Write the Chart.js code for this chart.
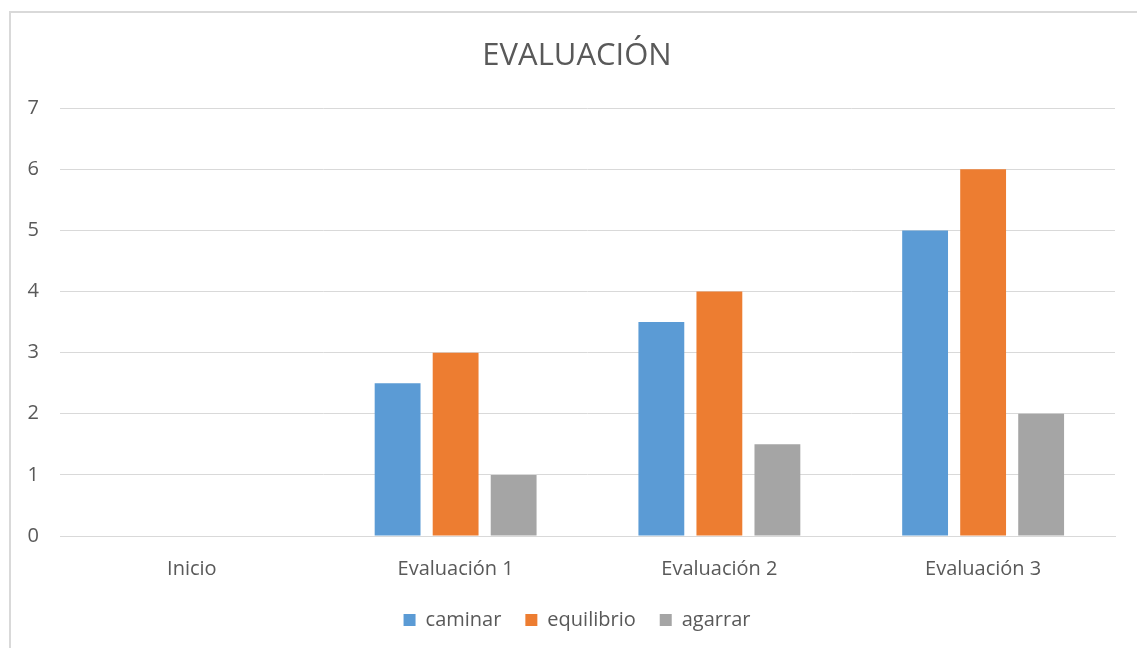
<!DOCTYPE html>
<html>
<head>
<meta charset="utf-8">
<script src="https://cdn.jsdelivr.net/npm/chart.js@4.4.1/dist/chart.umd.min.js"></script>
<style>
  html, body { margin: 0; padding: 0; background: #fff; overflow: hidden; }
  #frame { position: absolute; left: 9px; top: 11px; width: 1200px; height: 700px;
           border-top: 2px solid #d9d9d9; border-left: 2px solid #d9d9d9; }
  #wrap { position: absolute; left: 0; top: 0; width: 1137px; height: 648px; }
</style>
</head>
<body>
<div id="frame"></div>
<div id="wrap"><canvas id="c"></canvas></div>
<script>
const categories = ["Inicio", "Evaluación 1", "Evaluación 2", "Evaluación 3"];
const seriesNames = ["caminar", "equilibrio", "agarrar"];
const caminar = [0, 2.5, 3.5, 5];
const equilibrio = [0, 3, 4, 6];
const agarrar = [0, 1, 1.5, 2];
const yTicks = [0, 1, 2, 3, 4, 5, 6, 7];
const colors = ["#5B9BD5", "#ED7D31", "#A5A5A5"];
const chartTitle = "EVALUACIÓN";

const txt = "#595959";
const fontFam = "'Open Sans', sans-serif";

new Chart(document.getElementById("c"), {
  type: "bar",
  data: {
    labels: categories,
    datasets: [caminar, equilibrio, agarrar].map((d, i) => ({
      label: seriesNames[i],
      data: d,
      backgroundColor: colors[i],
      borderWidth: 0,
      categoryPercentage: 0.66,
      barPercentage: 0.79
    }))
  },
  options: {
    responsive: true,
    maintainAspectRatio: false,
    animation: false,
    layout: { padding: { left: 17, right: 0, top: 0, bottom: 8 } },
    plugins: {
      title: {
        display: true, text: chartTitle, color: txt,
        font: { family: fontFam, size: 31, weight: "normal" },
        padding: { top: 38, bottom: 33 }
      },
      legend: {
        position: "bottom",
        labels: {
          color: txt, boxWidth: 12, boxHeight: 12, padding: 24,
          font: { family: fontFam, size: 20 }
        }
      },
      tooltip: { enabled: false }
    },
    scales: {
      x: {
        grid: { display: false, drawTicks: false },
        border: { display: true, color: "#d9d9d9", width: 1 },
        ticks: { color: txt, font: { family: fontFam, size: 20 }, padding: 21 },
        afterFit: (s) => { s.height = 50; }
      },
      y: {
        min: 0, max: 7,
        afterBuildTicks: (s) => { s.ticks = yTicks.map(v => ({ value: v })); },
        grid: { color: "#d9d9d9", drawTicks: false, lineWidth: 1 },
        border: { display: false },
        ticks: { color: txt, font: { family: fontFam, size: 20 }, padding: 21 },
        afterFit: (s) => { s.width = 43; }
      },
      yr: {
        position: "right",
        display: true,
        grid: { display: false, drawTicks: false },
        border: { display: false },
        ticks: { display: false },
        afterFit: (s) => { s.width = 22; }
      }
    }
  }
});
</script>
</body>
</html>
